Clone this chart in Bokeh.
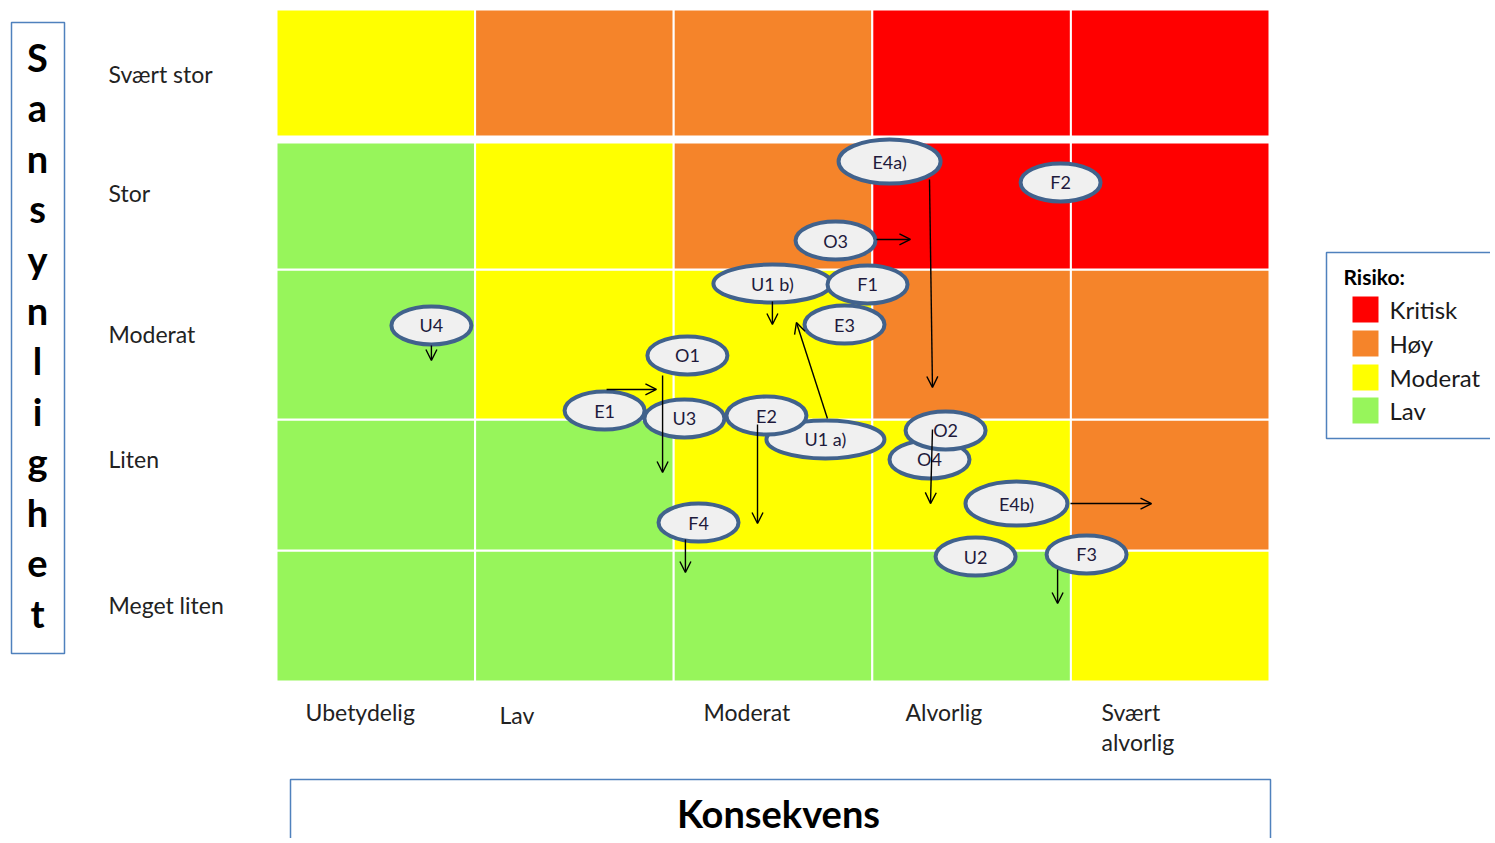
from bokeh.plotting import figure
from bokeh.models import Range1d, Arrow, OpenHead, ColumnDataSource
from bokeh.core.properties import value
from bokeh.embed import file_html
from bokeh.resources import INLINE

# ---------------- DATA ----------------
consequence = ["Ubetydelig", "Lav", "Moderat", "Alvorlig", "Svært\nalvorlig"]
probability = ["Meget liten", "Liten", "Moderat", "Stor", "Svært stor"]  # bottom -> top
y_title = "Sansynlighet"
x_title = "Konsekvens"
legend_title = "Risiko:"
risk_levels = ["Kritisk", "Høy", "Moderat", "Lav"]
risk_matrix = [  # rows bottom -> top, columns left -> right
    ["Lav", "Lav", "Lav", "Lav", "Moderat"],
    ["Lav", "Lav", "Moderat", "Moderat", "Høy"],
    ["Lav", "Moderat", "Moderat", "Høy", "Høy"],
    ["Lav", "Moderat", "Høy", "Kritisk", "Kritisk"],
    ["Moderat", "Høy", "Høy", "Kritisk", "Kritisk"],
]
# risk items: position on consequence axis (0..5) and probability axis (0..5)
item_ids = ["U1 a)", "U4", "O1", "E1", "U3", "E2", "U1 b)", "F1", "E3", "O3",
            "E4a)", "F2", "O4", "O2", "E4b)", "U2", "F3", "F4"]
item_cons = [2.764, 0.780, 2.069, 1.652, 2.054, 2.467, 2.497, 2.976, 2.860, 2.815,
             3.087, 3.948, 3.288, 3.369, 3.726, 3.520, 4.079, 2.125]
item_prob = [1.801, 2.649, 2.426, 2.016, 1.957, 1.979, 2.961, 2.954, 2.656, 3.281,
             3.869, 3.713, 1.652, 1.868, 1.324, 0.930, 0.945, 1.183]
# movement arrows (from -> to) in the same units
arrow_x0 = [0.780, 1.662, 1.944, 2.422, 2.774, 2.497, 3.021, 3.288, 3.303, 3.998, 3.933, 2.059]
arrow_y0 = [2.500, 2.173, 2.277, 1.912, 1.957, 2.827, 3.289, 3.735, 1.875, 1.324, 0.833, 1.057]
arrow_x1 = [0.780, 1.913, 1.944, 2.422, 2.618, 2.497, 3.192, 3.303, 3.293, 4.406, 3.933, 2.059]
arrow_y1 = [2.388, 2.173, 1.555, 1.176, 2.671, 2.656, 3.289, 2.188, 1.324, 1.324, 0.580, 0.811]

# ---------------- STYLE / LAYOUT ----------------
COLORS = {"Kritisk": "#FF0000", "Høy": "#F5842A", "Moderat": "#FFFF00", "Lav": "#97F55B"}
FONT = "Lato"
W, H = 1490, 838
ORIGIN = 1                 # screen pixel where the figure starts
X0, XS = 277.0, 198.6      # pixel of consequence 0, pixels per unit
Y0, YS = 682.0, 134.4      # pixel of probability 0, pixels per unit
ROW_BOTTOM = [0.0, 0.975, 1.949, 3.065, 4.055]
ROW_TOP = [0.975, 1.949, 3.065, 4.010, 5.0]


def dx(px):
    return (px - X0) / XS


def dy(py):
    return (Y0 - py) / YS


p = figure(width=W, height=H, output_backend="svg", toolbar_location=None,
           x_range=Range1d(dx(ORIGIN), dx(ORIGIN + W)),
           y_range=Range1d(dy(ORIGIN + H), dy(ORIGIN)),
           x_axis_type=None, y_axis_type=None, min_border=0)
p.outline_line_color = None
p.grid.visible = False
p.background_fill_color = "white"

# cells
cl, cr, cb, ct, cc = [], [], [], [], []
for r, row in enumerate(risk_matrix):
    for c, lvl in enumerate(row):
        cl.append(c); cr.append(c + 1)
        cb.append(ROW_BOTTOM[r]); ct.append(ROW_TOP[r])
        cc.append(COLORS[lvl])
p.quad(left=cl, right=cr, bottom=cb, top=ct, fill_color=cc,
       line_color="white", line_width=2)

# ellipses (bubbles)
sizes_w = [118 if len(t) > 4 else (102 if len(t) == 4 else 80) for t in item_ids]
sizes_h = [38 if len(t) != 4 else 44 for t in item_ids]
p.ellipse(x=item_cons, y=item_prob, width=sizes_w, height=sizes_h,
          width_units="screen", height_units="screen",
          fill_color="#F0F0F0", line_color="#41628C", line_width=4)
p.text(x=item_cons, y=item_prob, text=item_ids, text_font=value(FONT),
       text_font_size="18px", text_align="center", text_baseline="middle",
       text_color="#1E1A3C")

# arrows
asrc = ColumnDataSource(dict(x0=arrow_x0, y0=arrow_y0, x1=arrow_x1, y1=arrow_y1))
p.add_layout(Arrow(source=asrc, x_start="x0", y_start="y0", x_end="x1", y_end="y1",
                   line_color="black", line_width=1.4,
                   end=OpenHead(size=11, line_color="black", line_width=1.4)))

# probability labels
prob_label_py = [605, 459, 334, 193, 74]
p.text(x=[dx(109)] * 5, y=[dy(v) for v in prob_label_py], text=probability,
       text_font=value(FONT), text_font_size="23px", text_align="left",
       text_baseline="middle", text_color="#222222")

# consequence labels
cons_label_px = [306, 500, 704, 906, 1102]
cons_label_py = [712, 715, 712, 712, 712]
lx, ly, lt = [], [], []
for i, lab in enumerate(consequence):
    for k, part in enumerate(lab.split("\n")):
        lx.append(dx(cons_label_px[i])); ly.append(dy(cons_label_py[i] + 30 * k)); lt.append(part)
p.text(x=lx, y=ly, text=lt, text_font=value(FONT), text_font_size="23px",
       text_align="left", text_baseline="middle", text_color="#222222")

# vertical title box
p.quad(left=[dx(12)], right=[dx(65)], top=[dy(23)], bottom=[dy(654)],
       fill_color=None, line_color="#4F81BD", line_width=1.5)
letters = list(y_title)
p.text(x=[dx(38)] * len(letters), y=[dy(57 + i * 50.6) for i in range(len(letters))],
       text=letters, text_font=value(FONT), text_font_style="bold",
       text_font_size="38px", text_align="center", text_baseline="middle",
       text_color="black")

# x title box
p.quad(left=[dx(291)], right=[dx(1271)], top=[dy(780)], bottom=[dy(900)],
       fill_color=None, line_color="#4F81BD", line_width=1.5)
p.text(x=[dx(779)], y=[dy(813)], text=[x_title], text_font=value(FONT),
       text_font_style="bold", text_font_size="38px", text_align="center",
       text_baseline="middle", text_color="black")

# legend box
p.quad(left=[dx(1327)], right=[dx(1520)], top=[dy(253)], bottom=[dy(439)],
       fill_color="white", line_color="#4F81BD", line_width=1.5)
p.text(x=[dx(1344)], y=[dy(277)], text=[legend_title], text_font=value(FONT),
       text_font_style="bold", text_font_size="21px", text_align="left",
       text_baseline="middle", text_color="black")
leg_py = [310, 344, 378, 411]
p.rect(x=[dx(1366)] * 4, y=[dy(v) for v in leg_py], width=26, height=26,
       width_units="screen", height_units="screen",
       fill_color=[COLORS[l] for l in risk_levels], line_color=None)
p.text(x=[dx(1390)] * 4, y=[dy(v) for v in leg_py], text=risk_levels,
       text_font=value(FONT), text_font_size="24px", text_align="left",
       text_baseline="middle", text_color="#1a1a1a")

open("out.html", "w").write(file_html(p, INLINE))
